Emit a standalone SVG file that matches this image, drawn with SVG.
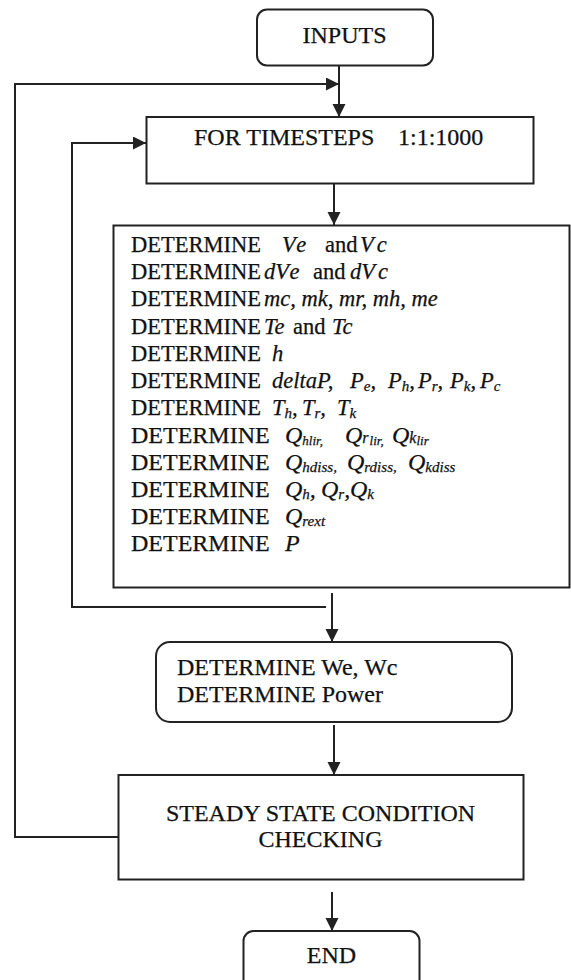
<svg xmlns="http://www.w3.org/2000/svg" width="571" height="980" viewBox="0 0 571 980">
<defs>
<style>
.box{fill:#fff;stroke:#222;stroke-width:2}
.ln{fill:none;stroke:#222;stroke-width:2}
.t{font-family:"Liberation Serif","Times New Roman",serif;fill:#111;stroke:#111;stroke-width:0.25}
.i{font-style:italic}
.s{font-size:15px;font-style:italic}
.xs{font-size:13px;font-style:italic}
.m{font-size:16px;font-style:italic}
</style>
<marker id="ah" markerUnits="userSpaceOnUse" markerWidth="14" markerHeight="14" refX="13" refY="6.5" orient="auto">
<path d="M0,0 L13,6.5 L0,13 z" fill="#222"/>
</marker>
</defs>
<rect width="571" height="980" fill="#fff"/>
<g id="connectors">
<path class="ln" d="M339,66 V117" marker-end="url(#ah)"/>
<path class="ln" d="M334,184 V225" marker-end="url(#ah)"/>
<path class="ln" d="M332,593 V642" marker-end="url(#ah)"/>
<path class="ln" d="M326,607 H72 V143 H146" marker-end="url(#ah)"/>
<path class="ln" d="M334,725 V775" marker-end="url(#ah)"/>
<path class="ln" d="M332,892 V931" marker-end="url(#ah)"/>
<path class="ln" d="M118,837 H15 V84 H339" marker-end="url(#ah)"/>
</g>
<g id="inputs">
<rect class="box" x="257" y="9.5" width="176" height="56" rx="10"/>
<text class="t" x="344.5" y="42.5" font-size="24" text-anchor="middle">INPUTS</text>
</g>
<g id="timesteps">
<rect class="box" x="146.5" y="117" width="387" height="66.5"/>
<text class="t" font-size="24" y="145"><tspan x="194">FOR TIMESTEPS</tspan><tspan x="398">1:1:1000</tspan></text>
</g>
<g id="determine">
<rect class="box" x="113.5" y="225.5" width="456" height="362"/>
<g class="t" font-size="22.5">
<text y="252"><tspan x="131">DETERMINE</tspan><tspan x="282" class="i">V</tspan><tspan class="i" dx="3">e</tspan><tspan x="325">and</tspan><tspan x="360" class="i">V</tspan><tspan class="i" dx="3">c</tspan></text>
<text y="279.2"><tspan x="131">DETERMINE</tspan><tspan x="264" class="i">dV</tspan><tspan class="i" dx="3">e</tspan><tspan x="313">and</tspan><tspan x="350" class="i">dV</tspan><tspan class="i" dx="3">c</tspan></text>
<text y="306.4"><tspan x="131">DETERMINE</tspan><tspan x="264" class="i">mc, mk, mr, mh, me</tspan></text>
<text y="333.6"><tspan x="131">DETERMINE</tspan><tspan x="264" class="i">Te</tspan><tspan x="293">and</tspan><tspan x="332" class="i">Tc</tspan></text>
<text y="360.8"><tspan x="131">DETERMINE</tspan><tspan x="272" class="i">h</tspan></text>
<text y="388"><tspan x="131">DETERMINE</tspan><tspan x="272" class="i">deltaP,</tspan><tspan x="350" class="i">P</tspan><tspan class="s" dy="3">e</tspan><tspan class="i" dy="-3">,</tspan><tspan x="388" class="i">P</tspan><tspan class="s" dy="3">h</tspan><tspan class="i" dy="-3">,</tspan><tspan x="418" class="i">P</tspan><tspan class="s" dy="3">r</tspan><tspan class="i" dy="-3">,</tspan><tspan x="450" class="i">P</tspan><tspan class="s" dy="3">k</tspan><tspan class="i" dy="-3">,</tspan><tspan x="480" class="i">P</tspan><tspan class="s" dy="3">c</tspan></text>
<text y="415.2"><tspan x="131">DETERMINE</tspan><tspan x="272" class="i">T</tspan><tspan class="s" dy="3">h</tspan><tspan class="i" dy="-3">,</tspan><tspan x="302" class="i">T</tspan><tspan class="s" dy="3">r</tspan><tspan class="i" dy="-3">,</tspan><tspan x="337" class="i">T</tspan><tspan class="s" dy="3">k</tspan></text>
</g>
<g class="t" font-size="24">
<text y="443"><tspan x="131">DETERMINE</tspan><tspan x="285" class="i">Q</tspan><tspan class="xs" dy="2">hlir,</tspan><tspan x="345" class="i" dy="-2">Q</tspan><tspan class="m">r</tspan><tspan class="xs" dy="2" dx="1">lir,</tspan><tspan x="392" class="i" dy="-2">Q</tspan><tspan class="m">k</tspan><tspan class="xs" dy="2">lir</tspan></text>
<text y="470"><tspan x="131">DETERMINE</tspan><tspan x="285" class="i">Q</tspan><tspan class="s" dy="2">hdiss,</tspan><tspan x="347" class="i" dy="-2">Q</tspan><tspan class="s" dy="2">rdiss,</tspan><tspan x="408" class="i" dy="-2">Q</tspan><tspan class="s" dy="2">kdiss</tspan></text>
<text y="497"><tspan x="131">DETERMINE</tspan><tspan x="285" class="i">Q</tspan><tspan class="s" dy="2">h</tspan><tspan class="i" dy="-2">,</tspan><tspan x="321" class="i">Q</tspan><tspan class="s" dy="2">r</tspan><tspan class="i" dy="-2">,</tspan><tspan x="350" class="i">Q</tspan><tspan class="s" dy="2">k</tspan></text>
<text y="524"><tspan x="131">DETERMINE</tspan><tspan x="285" class="i">Q</tspan><tspan class="s" dy="2">rext</tspan></text>
<text y="551"><tspan x="131">DETERMINE</tspan><tspan x="285" class="i">P</tspan></text>
</g>
</g>
<g id="power">
<rect class="box" x="156" y="642" width="356" height="80" rx="14"/>
<text class="t" font-size="24" x="177" y="675">DETERMINE We, Wc</text>
<text class="t" font-size="24" x="177" y="701.5">DETERMINE Power</text>
</g>
<g id="steady">
<rect class="box" x="118.5" y="775" width="405" height="104.5"/>
<text class="t" font-size="24" x="320.5" y="820.5" text-anchor="middle">STEADY STATE CONDITION</text>
<text class="t" font-size="24" x="320.5" y="846.5" text-anchor="middle">CHECKING</text>
</g>
<g id="end">
<rect class="box" x="243.5" y="931" width="176" height="60" rx="10"/>
<text class="t" font-size="24" x="331.5" y="962.5" text-anchor="middle">END</text>
</g>
</svg>
